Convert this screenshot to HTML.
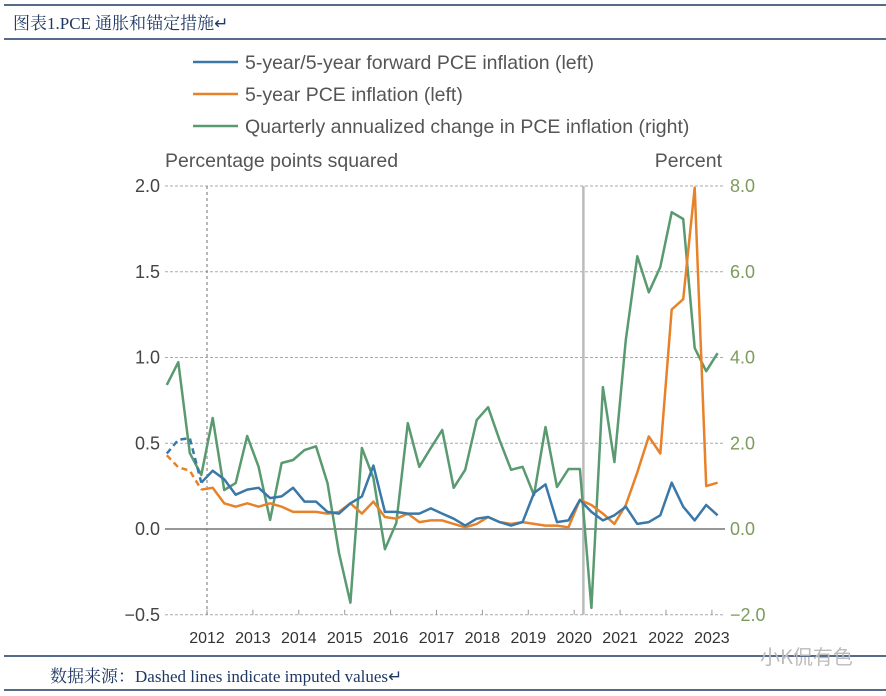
<!DOCTYPE html>
<html><head><meta charset="utf-8"><style>
body{margin:0;background:#fff;width:886px;height:696px;overflow:hidden}
svg{display:block}
</style></head><body>
<svg width="886" height="696" xmlns="http://www.w3.org/2000/svg">
<g>
<line x1="4" y1="5" x2="886" y2="5" stroke="#1f3864" stroke-width="1.5"/>
<line x1="4" y1="39" x2="886" y2="39" stroke="#1f3864" stroke-width="1.5"/>
<text x="13" y="29" font-family="'Liberation Serif','Noto Serif CJK SC',serif" font-size="17" fill="#1f3864">图表1.PCE  通胀和锚定措施↵</text>
<line x1="4" y1="656" x2="886" y2="656" stroke="#1f3864" stroke-width="1.5"/>
<line x1="4" y1="690" x2="886" y2="690" stroke="#1f3864" stroke-width="1.5"/>
<text x="50" y="682" font-family="'Liberation Serif','Noto Serif CJK SC',serif" font-size="17" fill="#1f3864">数据来源：Dashed lines indicate imputed values↵</text>
<text x="760" y="664" font-family="'Noto Sans CJK SC',sans-serif" font-size="20" fill="#bbb">小K侃有色</text>
</g>
<g font-family="'Liberation Sans',Arial,sans-serif" fill="#555" font-size="19.5">
<line x1="193" y1="62" x2="238" y2="62" stroke="#3a78a8" stroke-width="2.5"/>
<text x="245" y="69">5-year/5-year forward PCE inflation (left)</text>
<line x1="193" y1="94" x2="238" y2="94" stroke="#e8822a" stroke-width="2.5"/>
<text x="245" y="101">5-year PCE inflation (left)</text>
<line x1="193" y1="126" x2="238" y2="126" stroke="#5a9a70" stroke-width="2.5"/>
<text x="245" y="133">Quarterly annualized change in PCE inflation (right)</text>
</g>
<text x="165" y="167" font-family="'Liberation Sans',Arial,sans-serif" font-size="19.5" fill="#555">Percentage points squared</text>
<text x="722" y="167" text-anchor="end" font-family="'Liberation Sans',Arial,sans-serif" font-size="19.5" fill="#555">Percent</text>
<g id="chart"></g>
</svg>
<script>
const leftTicks=[2.0,1.5,1.0,0.5,0.0,-0.5];
const leftLabels=["2.0","1.5","1.0","0.5","0.0","\u22120.5"];
const rightTicks=[8,6,4,2,0,-2];
const rightLabels=["8.0","6.0","4.0","2.0","0.0","\u22122.0"];
const years=[2012,2013,2014,2015,2016,2017,2018,2019,2020,2021,2022,2023];
const startTime=2011.125;
const fiveFive=[.44,.52,.53,.27,.34,.29,.20,.23,.24,.18,.19,.24,.16,.16,.10,.09,.15,.19,.37,.10,.10,.09,.09,.12,.09,.06,.02,.06,.07,.04,.02,.04,.21,.26,.04,.05,.17,.10,.05,.08,.13,.03,.04,.08,.27,.13,.05,.14,.08];
const fiveYear=[.43,.36,.34,.23,.24,.15,.13,.15,.13,.15,.13,.10,.10,.10,.09,.10,.15,.09,.16,.07,.06,.09,.04,.05,.05,.03,.01,.03,.07,.04,.03,.04,.03,.02,.02,.01,.17,.14,.09,.03,.14,.33,.54,.44,1.28,1.34,1.99,.25,.27];
const quarterly=[3.36,3.89,1.77,1.26,2.59,.91,1.07,2.17,1.45,.21,1.54,1.61,1.84,1.93,1.07,-.56,-1.72,1.89,1.19,-.47,.14,2.47,1.45,1.89,2.31,.96,1.38,2.54,2.84,2.07,1.38,1.45,.79,2.38,.98,1.40,1.40,-1.84,3.31,1.56,4.41,6.36,5.52,6.11,7.39,7.23,4.22,3.68,4.10];
const imputedCount=4;
const covidLine=2020.2;

const NS="http://www.w3.org/2000/svg";
const g=document.getElementById('chart');
const yL=v=>529-v*171.5;
const yR=v=>529-v*42.875;
const xT=t=>207+(t-2012)*45.9;
const xi=i=>xT(startTime+0.25*i);
function mk(tag,attrs){const e=document.createElementNS(NS,tag);for(const k in attrs)e.setAttribute(k,attrs[k]);g.appendChild(e);return e;}
leftTicks.forEach((v,k)=>{
  const ln=mk('line',{x1:165,x2:725,y1:yL(v),y2:yL(v),stroke:v===0?'#888':'#aaa','stroke-width':v===0?1.8:1,'stroke-dasharray':v===0?'none':'3,2'});
  
  
  const t=mk('text',{x:160,y:yL(v)+6,'text-anchor':'end','font-family':"'Liberation Sans',Arial,sans-serif",'font-size':18,fill:'#444'});
  t.textContent=leftLabels[k];
  
  
});
rightTicks.forEach((v,k)=>{
  const t=mk('text',{x:730,y:yR(v)+6,'font-family':"'Liberation Sans',Arial,sans-serif",'font-size':18,fill:'#7d9b5c'});
  t.textContent=rightLabels[k];
  
  
});
years.forEach(yr=>{
  const x=xT(yr);
  const tk=mk('line',{x1:x,x2:x,y1:yL(-0.5)-5,y2:yL(-0.5),stroke:'#999','stroke-width':1});
  
  
  const t=mk('text',{x:x,y:643,'text-anchor':'middle','font-family':"'Liberation Sans Narrow','Liberation Sans',sans-serif",'font-size':16,fill:'#333'});
  t.textContent=yr;
  
  
});
const v1=mk('line',{x1:xT(2012),x2:xT(2012),y1:yL(2),y2:yL(-0.5),stroke:'#888','stroke-dasharray':'3,3','stroke-width':1.2});


const v2=mk('line',{x1:xT(covidLine),x2:xT(covidLine),y1:yL(2),y2:yL(-0.5),stroke:'#bbb','stroke-width':2.5});


function pts(arr,yf,a,b){return arr.slice(a,b).map((v,j)=>xi(a+j).toFixed(1)+','+yf(v).toFixed(1)).join(' ');}
const q=mk('polyline',{points:pts(quarterly,yR,0,quarterly.length),fill:'none',stroke:'#5a9a70','stroke-width':2.5,'stroke-linejoin':'round'});


[[fiveYear,'#e8822a','five-year'],[fiveFive,'#3a78a8','five-five']].forEach(([arr,c,n])=>{
  const d=mk('polyline',{points:pts(arr,yL,0,imputedCount),fill:'none',stroke:c,'stroke-width':2.5,'stroke-dasharray':'6,4'});
  
  
  const s=mk('polyline',{points:pts(arr,yL,imputedCount-1,arr.length),fill:'none',stroke:c,'stroke-width':2.5,'stroke-linejoin':'round'});
  
  
});
</script>
</body></html>
